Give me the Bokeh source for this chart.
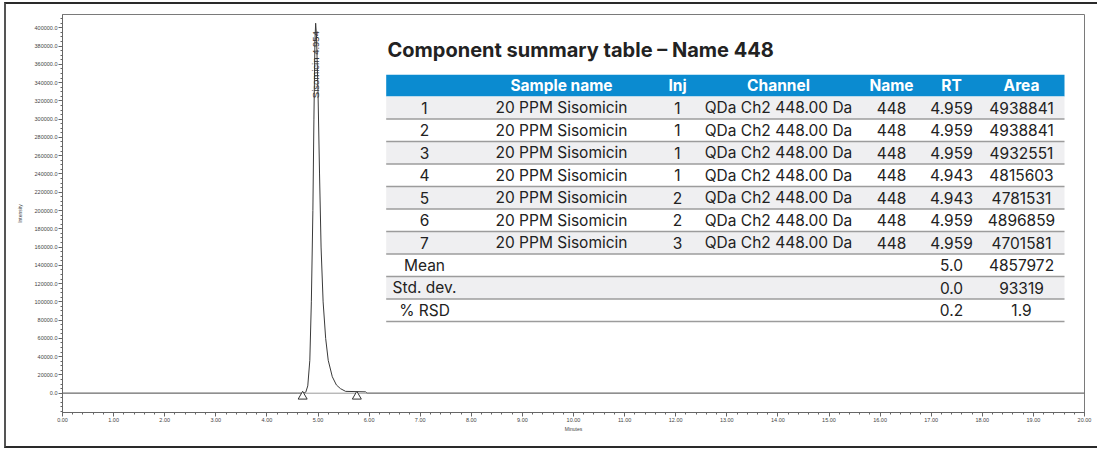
from bokeh.plotting import figure
from bokeh.models import Range1d, FixedTicker, NumeralTickFormatter
from bokeh.core.properties import value
from bokeh.embed import file_html
from bokeh.resources import INLINE

# ---------------- data ----------------
# chromatogram trace (minutes, intensity)
times = [0.0, 4.60, 4.70, 4.76, 4.80, 4.84, 4.87, 4.90, 4.92, 4.94, 4.954, 4.97,
         5.00, 5.03, 5.06, 5.10, 5.15, 5.20, 5.28, 5.36, 5.44, 5.54, 5.93, 5.96, 20.0]
intensity = [0, 0, 0, 1000, 8000, 36000, 100000, 200000, 300000, 385000, 405000, 392000,
             330000, 240000, 160000, 100000, 60000, 36000, 18000, 9000, 5000, 2000, 1500, 0, 0]
peak_name = "Sisomicin"
peak_rt = 4.954
peak_label_intensity = 323000
integration_start = [4.70, 5.76]
integration_level = [-3600, -3600]

x_ticks = list(range(0, 21))
y_ticks = list(range(0, 400001, 20000))

# component summary table
table_title = "Component summary table \u2013 Name 448"
headers = ["", "Sample name", "Inj", "Channel", "Name", "RT", "Area"]
row_ids = ["1", "2", "3", "4", "5", "6", "7"]
sample_names = ["20 PPM Sisomicin"] * 7
injections = ["1", "1", "1", "1", "2", "2", "3"]
channels = ["QDa Ch2 448.00 Da"] * 7
names = ["448"] * 7
rts = ["4.959", "4.959", "4.959", "4.943", "4.943", "4.959", "4.959"]
areas = ["4938841", "4938841", "4932551", "4815603", "4781531", "4896859", "4701581"]
summary_labels = ["Mean", "Std. dev.", "% RSD"]
summary_rt = ["5.0", "0.0", "0.2"]
summary_area = ["4857972", "93319", "1.9"]

# ---------------- figure ----------------
FR_L, FR_R, FR_T, FR_B = 62, 1084, 14, 412   # frame in page pixels
OX, OY = 6, 4                                # canvas origin on the page
Y0, Y400 = 392.7, 27.3
upp = 400000 / (Y0 - Y400)
y_top = (Y0 - FR_T) * upp
y_bot = -(FR_B - Y0) * upp

W, H = 1093, 446
p = figure(width=W, height=H, output_backend="svg", toolbar_location=None,
           x_range=Range1d(0, 20), y_range=Range1d(y_bot, y_top),
           min_border_left=FR_L - OX, min_border_right=W - (FR_R - OX),
           min_border_top=FR_T - OY, min_border_bottom=H - (FR_B - OY),
           background_fill_color="white", border_fill_color="white",
           styles={"margin-left": "4px", "margin-top": "2px",
                   "border-top": "2px solid #2a2a2a", "border-left": "2px solid #555555",
                   "border-bottom": "2px solid #2a2a2a"})
p.grid.visible = False
p.outline_line_color = "#7a7a7a"
p.outline_line_width = 1

tick_font = "Liberation Sans"
xa = p.xaxis[0]
xa.ticker = FixedTicker(ticks=x_ticks, minor_ticks=[i * 0.2 for i in range(0, 101)])
xa.formatter = NumeralTickFormatter(format="0.00")
xa.axis_label = "Minutes"
ya = p.yaxis[0]
ya.ticker = FixedTicker(ticks=y_ticks, minor_ticks=list(range(-20000, 415001, 5000)))
ya.formatter = NumeralTickFormatter(format="0.0")
ya.axis_label = "Intensity"
for ax in (xa, ya):
    ax.axis_line_color = "#666666"
    ax.major_tick_line_color = "#666666"
    ax.minor_tick_line_color = "#666666"
    ax.major_tick_in = 0
    ax.minor_tick_in = 0
    ax.major_tick_out = 4
    ax.minor_tick_out = 2
    ax.major_label_text_font = tick_font
    ax.major_label_text_font_size = "5.5px"
    ax.major_label_text_color = "#444444"
    ax.axis_label_text_font = tick_font
    ax.axis_label_text_font_size = "5px"
    ax.axis_label_text_font_style = "normal"
    ax.axis_label_text_color = "#444444"
xa.major_label_standoff = 1
xa.axis_label_standoff = 1
ya.major_label_standoff = 1
ya.axis_label_standoff = 9

# chromatogram
p.line(times, intensity, line_color="#3a3a3a", line_width=1)
p.line([x_ticks[0], x_ticks[-1]], [0, 0], line_color="#9a9a9a", line_width=1)
p.scatter(integration_start, integration_level, marker="triangle", size=9,
          fill_color="white", line_color="#333333", line_width=1)
p.text(x=[peak_rt], y=[peak_label_intensity], text=[f"{peak_name}  {peak_rt:.3f}"],
       angle=1.5708, text_align="left", text_baseline="middle",
       text_font=value(tick_font), text_font_size="9.5px", text_color="#333333")

# ---------------- table (pixel layout ranges) ----------------
p.extra_x_ranges = {"px": Range1d(FR_L, FR_R)}
p.extra_y_ranges = {"py": Range1d(FR_B, FR_T)}
kw = dict(x_range_name="px", y_range_name="py")

T_L, T_R = 385.7, 1064
HEAD_T, HEAD_B = 74.3, 96
ROW_H = 22.5
col_x = [424, 561, 677, 778, 891, 951, 1021]
tfont = value("Inter")

p.text(x=[387], y=[49], text=[table_title], text_font=tfont, text_font_size="20px",
       text_font_style="bold", text_color="#222222", text_align="left",
       text_baseline="middle", **kw)

p.quad(left=[T_L], right=[T_R], top=[HEAD_T], bottom=[HEAD_B],
       fill_color="#0b8bd0", line_color=None, **kw)
p.text(x=col_x, y=[(HEAD_T + HEAD_B) / 2] * len(headers), text=headers,
       text_font=tfont, text_font_size="15.5px", text_font_style="bold",
       text_color="white", text_align="center", text_baseline="middle", **kw)

rows = [[row_ids[i], sample_names[i], injections[i], channels[i], names[i], rts[i], areas[i]]
        for i in range(len(row_ids))]
rows += [[summary_labels[i], "", "", "", "", summary_rt[i], summary_area[i]]
         for i in range(len(summary_labels))]

n = len(rows)
tops = [HEAD_B + ROW_H * i for i in range(n)]
bots = [HEAD_B + ROW_H * (i + 1) for i in range(n)]
shaded = [i for i in range(n) if i % 2 == 0]
p.quad(left=[T_L] * len(shaded), right=[T_R] * len(shaded),
       top=[tops[i] for i in shaded], bottom=[bots[i] for i in shaded],
       fill_color="#efeff1", line_color=None, **kw)
p.segment(x0=[T_L] * n, x1=[T_R] * n, y0=bots, y1=bots,
          line_color="#9c9c9c", line_width=1.5, **kw)

xs, ys, ts = [], [], []
for i, r in enumerate(rows):
    cy = (tops[i] + bots[i]) / 2
    for j, t in enumerate(r):
        if t:
            xs.append(col_x[j]); ys.append(cy); ts.append(t)
p.text(x=xs, y=ys, text=ts, text_font=tfont, text_font_size="15.5px",
       text_color="#222222", text_align="center", text_baseline="middle", **kw)

open("out.html", "w").write(file_html(p, INLINE))
